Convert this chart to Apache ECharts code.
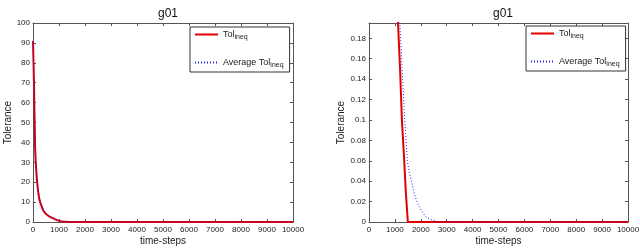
<!DOCTYPE html>
<html>
<head>
<meta charset="utf-8">
<script src="https://cdn.jsdelivr.net/npm/echarts@6/dist/echarts.min.js"></script>
<style>html,body{margin:0;padding:0;background:#fff;}#c{width:640px;height:248px;}</style>
</head>
<body>
<div id="c"></div>
<script>
var tolSteps = [0, 20, 40, 60, 80, 100, 150, 200, 250, 300, 400, 500, 600, 700, 800, 900, 1000, 1120, 1200, 1270, 1350, 1420, 1500, 10000];
var tolValues = [91, 80, 68, 52, 38, 31, 21, 15, 11, 9, 5.6, 4, 3, 2.3, 1.7, 1.1, 0.6, 0.195, 0.15, 0.1, 0.065, 0.03, 0, 0];
var avgSteps = [0, 20, 40, 60, 80, 100, 150, 200, 250, 300, 400, 500, 600, 700, 800, 900, 1000, 1100, 1190, 1300, 1380, 1480, 1560, 1640, 1750, 1850, 1960, 2080, 2200, 2330, 2500, 2730, 10000];
var avgValues = [91, 82, 70, 55, 42, 33, 22, 16, 12, 9.5, 6, 4.3, 3.2, 2.5, 1.8, 1.2, 0.7, 0.35, 0.195, 0.14, 0.1, 0.06, 0.048, 0.04, 0.028, 0.02, 0.014, 0.009, 0.005, 0.003, 0.0015, 0, 0];
var titles = ['g01', 'g01'];
var xName = 'time-steps';
var yName = 'Tolerance';
var seriesNames = ['Tol', 'Average Tol'];
var yMax = [100, 0.195];
var yInterval = [10, 0.02];

function pairs(xs, ys) { return xs.map(function (x, i) { return [x, ys[i]]; }); }

var axisColor = '#555';
var labelColor = '#222';
var fontFam = 'Liberation Sans, Arial, sans-serif';

var grids = [
  { left: 33, top: 23, width: 260, height: 199, containLabel: false, outerBoundsMode: 'none' },
  { left: 369, top: 23, width: 259, height: 199, containLabel: false, outerBoundsMode: 'none' }
];

function plain(v) { return String(Math.round(v * 1000) / 1000); }

function xAx(g, main) {
  return {
    type: 'value', gridIndex: g, min: 0, max: 10000, interval: 1000,
    position: main ? 'bottom' : 'top',
    name: main ? xName : '', nameLocation: 'middle', nameGap: 14, nameMoveOverlap: false,
    nameTextStyle: { fontSize: 10, color: labelColor, fontFamily: fontFam },
    axisLine: { show: true, onZero: false, lineStyle: { color: axisColor, width: 1 } },
    axisTick: { show: true, inside: true, length: 3, lineStyle: { color: axisColor } },
    axisLabel: { show: main, fontSize: 8, color: labelColor, margin: 4, fontFamily: fontFam, formatter: plain },
    splitLine: { show: false }
  };
}
function yAx(g, main) {
  return {
    type: 'value', gridIndex: g, min: 0, max: yMax[g], interval: yInterval[g],
    position: main ? 'left' : 'right',
    name: main ? yName : '', nameLocation: 'middle', nameGap: g === 0 ? 20 : 22,
    nameTextStyle: { fontSize: 10, color: labelColor, fontFamily: fontFam },
    axisLine: { show: true, onZero: false, lineStyle: { color: axisColor, width: 1 } },
    axisTick: { show: true, inside: true, length: 3, lineStyle: { color: axisColor } },
    axisLabel: { show: main, fontSize: 8, color: labelColor, margin: 3, fontFamily: fontFam, showMaxLabel: g === 0, formatter: plain },
    splitLine: { show: false }
  };
}

var legendRich = {
  m: { fontSize: 9, color: '#222', fontFamily: fontFam },
  s: { fontSize: 7, color: '#222', fontFamily: fontFam, padding: [6, 0, 0, 0] }
};
function legendAt(left, top) {
  return {
    orient: 'vertical', left: left, top: top,
    data: seriesNames,
    itemWidth: 23, itemHeight: 10, itemGap: 17,
    padding: [3, 6, 3, 4],
    borderColor: '#333', borderWidth: 1, backgroundColor: '#fff',
    selectedMode: false,
    itemStyle: { opacity: 0, borderWidth: 0 },
    formatter: function (n) { return '{m|' + n + '}{s|ineq}'; },
    textStyle: { rich: legendRich }
  };
}

var series = [];
[0, 1].forEach(function (g) {
  series.push({
    name: seriesNames[0], type: 'line', xAxisIndex: g, yAxisIndex: g,
    data: pairs(tolSteps, tolValues), symbol: 'none', showSymbol: false,
    lineStyle: { color: '#e00000', width: 2, type: 'solid' }, itemStyle: { color: '#e00000' },
    clip: true, animation: false, z: 2
  });
  series.push({
    name: seriesNames[1], type: 'line', xAxisIndex: g, yAxisIndex: g,
    data: pairs(avgSteps, avgValues), symbol: 'none', showSymbol: false,
    lineStyle: { color: '#2020ff', width: 1, type: [1, 2] }, itemStyle: { color: '#2020ff' },
    clip: true, animation: false, z: 3
  });
});

var chart = echarts.init(document.getElementById('c'), null, { renderer: 'canvas' });
chart.setOption({
  animation: false,
  backgroundColor: '#fff',
  title: [
    { text: titles[0], left: 163, top: 3, textAlign: 'center', textStyle: { fontSize: 12, fontWeight: 'normal', color: '#111', fontFamily: fontFam } },
    { text: titles[1], left: 498, top: 3, textAlign: 'center', textStyle: { fontSize: 12, fontWeight: 'normal', color: '#111', fontFamily: fontFam } }
  ],
  grid: grids,
  xAxis: [xAx(0, true), xAx(1, true), xAx(0, false), xAx(1, false)],
  yAxis: [yAx(0, true), yAx(1, true), yAx(0, false), yAx(1, false)],
  legend: [legendAt(190, 27), legendAt(526, 26)],
  series: series
});
</script>
</body>
</html>
